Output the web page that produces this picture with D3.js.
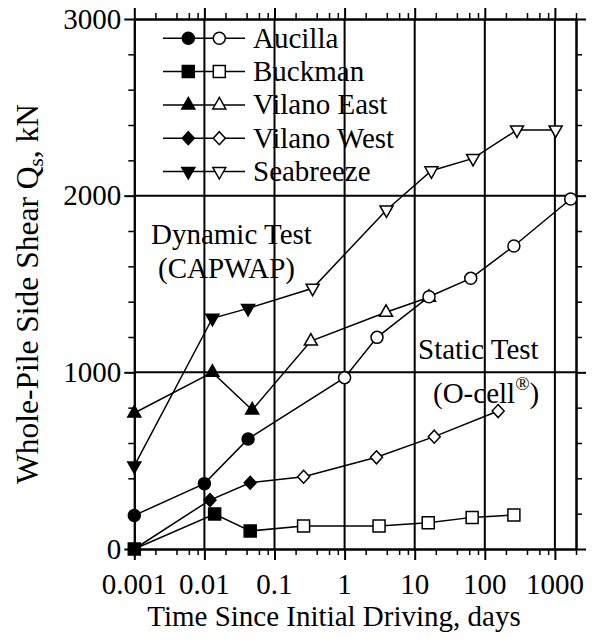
<!DOCTYPE html>
<html><head><meta charset="utf-8">
<script src="https://cdn.jsdelivr.net/npm/d3@7"></script>
<style>body{margin:0;background:#fff}svg{display:block}text{font-family:"Liberation Serif","Times New Roman",serif;fill:#000}</style>
</head><body><svg id="c" width="598" height="644"></svg>
<script>
// ---- data ----
const seriesNames = ["Aucilla", "Buckman", "Vilano East", "Vilano West", "Seabreeze"];
const seriesShapes = ["circle", "square", "triUp", "diamond", "triDown"];
const aucillaTime  = [0.001, 0.01, 0.042, 1, 2.9, 16, 63, 260, 1680];
const aucillaQs    = [190, 370, 623, 970, 1198, 1428, 1532, 1715, 1981];
const buckmanTime  = [0.001, 0.014, 0.045, 0.26, 3.1, 15.6, 66, 260];
const buckmanQs    = [0, 198, 102, 130, 130, 149, 179, 192];
const vEastTime    = [0.001, 0.013, 0.048, 0.33, 3.9, 16];
const vEastQs      = [770, 1000, 787, 1177, 1340, 1425];
const vWestTime    = [0.001, 0.012, 0.045, 0.26, 2.85, 19, 155];
const vWestQs      = [0, 277, 375, 409, 519, 636, 781];
const seaTime      = [0.001, 0.013, 0.042, 0.35, 3.96, 17.3, 68, 288, 1025];
const seaQs        = [470, 1306, 1362, 1476, 1919, 2141, 2211, 2372, 2372];
const dynamicCount = [3, 3, 3, 3, 3];  // first N points are dynamic (filled), rest static (open)
const xMajorTicks = [0.001, 0.01, 0.1, 1, 10, 100, 1000];
const xTickLabels = ["0.001", "0.01", "0.1", "1", "10", "100", "1000"];
const yMajorTicks = [0, 1000, 2000, 3000];
const yTickLabels = ["0", "1000", "2000", "3000"];

const times = [aucillaTime, buckmanTime, vEastTime, vWestTime, seaTime];
const vals  = [aucillaQs, buckmanQs, vEastQs, vWestQs, seaQs];

// ---- layout ----
const L = 134.3, R = 576, T = 19, B = 549;
const FS = 29;
const svg = d3.select("#c");
const x = d3.scaleLog().domain([0.001, 2000]).range([L, R]);
const y = d3.scaleLinear().domain([0, 3000]).range([B, T]);

const xMinor = [];
xMajorTicks.forEach(d => [2,4,6,8].forEach(m => { if (d*m <= 2000) xMinor.push(d*m); }));
const yMinor = d3.range(0, 3001, 200).filter(v => v % 1000 !== 0);

// gridlines
const g = svg.append("g");
g.selectAll(".vg").data(xMajorTicks.slice(1)).join("line")
  .attr("x1", d => x(d)).attr("x2", d => x(d)).attr("y1", T).attr("y2", B)
  .attr("stroke", "#000").attr("stroke-width", 2);
g.selectAll(".hg").data([1000, 2000]).join("line")
  .attr("x1", L).attr("x2", R).attr("y1", d => y(d)).attr("y2", d => y(d))
  .attr("stroke", "#000").attr("stroke-width", 2);

function styleAxis(sel, w) {
  sel.selectAll("path").attr("stroke", "#000").attr("stroke-width", 2);
  sel.selectAll("line").attr("stroke", "#000").attr("stroke-width", w);
  sel.selectAll("text").remove();
}
// bottom
svg.append("g").attr("transform", `translate(0,${B})`)
  .call(d3.axisBottom(x).tickValues(xMajorTicks).tickSize(11).tickSizeOuter(0)).call(s => styleAxis(s, 2));
svg.append("g").attr("transform", `translate(0,${B})`)
  .call(d3.axisBottom(x).tickValues(xMinor).tickSize(6).tickSizeOuter(0)).call(s => styleAxis(s, 1.5));
// top
svg.append("g").attr("transform", `translate(0,${T})`)
  .call(d3.axisTop(x).tickValues(xMajorTicks).tickSize(11).tickSizeOuter(0)).call(s => styleAxis(s, 2));
svg.append("g").attr("transform", `translate(0,${T})`)
  .call(d3.axisTop(x).tickValues(xMinor).tickSize(6).tickSizeOuter(0)).call(s => styleAxis(s, 1.5));
// left
svg.append("g").attr("transform", `translate(${L},0)`)
  .call(d3.axisLeft(y).tickValues(yMajorTicks).tickSize(10).tickSizeOuter(0)).call(s => styleAxis(s, 2));
svg.append("g").attr("transform", `translate(${L},0)`)
  .call(d3.axisLeft(y).tickValues(yMinor).tickSize(6).tickSizeOuter(0)).call(s => styleAxis(s, 1.5));
// right
svg.append("g").attr("transform", `translate(${R},0)`)
  .call(d3.axisRight(y).tickValues(yMajorTicks).tickSize(10).tickSizeOuter(0)).call(s => styleAxis(s, 2));
svg.append("g").attr("transform", `translate(${R},0)`)
  .call(d3.axisRight(y).tickValues(yMinor).tickSize(6).tickSizeOuter(0)).call(s => styleAxis(s, 1.5));

// tick labels
svg.append("g").selectAll("text").data(xMajorTicks).join("text")
  .attr("x", d => x(d)).attr("y", 594).attr("text-anchor", "middle")
  .attr("font-size", FS).text((d, i) => xTickLabels[i]);
svg.append("g").selectAll("text").data(yMajorTicks).join("text")
  .attr("x", L - 13).attr("y", d => y(d)).attr("dy", "0.33em").attr("text-anchor", "end")
  .attr("font-size", FS).text((d, i) => yTickLabels[i]);

// axis titles
svg.append("text").attr("x", 334).attr("y", 626).attr("text-anchor", "middle")
  .attr("font-size", FS).text("Time Since Initial Driving, days");
const yt = svg.append("text").attr("transform", "translate(38,294) rotate(-90)")
  .attr("text-anchor", "middle").attr("font-size", 31.5);
yt.append("tspan").text("Whole-Pile Side Shear Q");
yt.append("tspan").attr("font-size", 21).attr("dy", 5).text("s");
yt.append("tspan").attr("dy", -5).text(", kN");

// markers
function shapePath(type) {
  switch (type) {
    case "circle": return "M6,0A6,6 0 1,1 -6,0A6,6 0 1,1 6,0Z";
    case "square": return "M-6,-6H6V6H-6Z";
    case "triUp": return "M0,-7.5L6.5,4L-6.5,4Z";
    case "triDown": return "M0,7.5L6.5,-4L-6.5,-4Z";
    case "diamond": return "M0,-6.5L6,0L0,6.5L-6,0Z";
  }
}
const line = d3.line().x(d => x(d[0])).y(d => y(d[1]));
// annotations
svg.append("text").attr("x", 151).attr("y", 244).attr("font-size", FS).text("Dynamic Test");
svg.append("text").attr("x", 158).attr("y", 278).attr("font-size", FS).text("(CAPWAP)");
svg.append("text").attr("x", 418).attr("y", 359).attr("font-size", FS).text("Static Test");
const oc = svg.append("text").attr("x", 433).attr("y", 403).attr("font-size", FS);
oc.append("tspan").text("(O-cell");
oc.append("tspan").attr("font-size", 19).attr("dy", -13).text("®");
oc.append("tspan").attr("dy", 13).text(")");

const order = [4, 3, 2, 1, 0];
order.forEach(si => {
  const pts = times[si].map((t, i) => [t, vals[si][i]]);
  svg.append("path").attr("d", line(pts)).attr("fill", "none").attr("stroke", "#000").attr("stroke-width", 1.5);
});
order.forEach(si => {
  const pts = times[si].map((t, i) => [t, vals[si][i]]);
  svg.append("g").selectAll("path").data(pts).join("path")
    .attr("d", shapePath(seriesShapes[si]))
    .attr("transform", d => `translate(${x(d[0])},${y(d[1])})`)
    .attr("fill", (d, i) => i < dynamicCount[si] ? "#000" : "#fff")
    .attr("stroke", "#000").attr("stroke-width", 1.5);
});

// legend
const lg = svg.append("g");
seriesNames.forEach((n, i) => {
  const cy = 38.3 + i * 33.3;
  lg.append("line").attr("x1", 163).attr("x2", 245).attr("y1", cy).attr("y2", cy)
    .attr("stroke", "#000").attr("stroke-width", 1.5);
  lg.append("path").attr("d", shapePath(seriesShapes[i])).attr("transform", `translate(188.3,${cy})`)
    .attr("fill", "#000").attr("stroke", "#000").attr("stroke-width", 1.5);
  lg.append("path").attr("d", shapePath(seriesShapes[i])).attr("transform", `translate(219.3,${cy})`)
    .attr("fill", "#fff").attr("stroke", "#000").attr("stroke-width", 1.5);
  lg.append("text").attr("x", 253).attr("y", cy + 9.5).attr("font-size", FS).text(n);
});
</script></body></html>
